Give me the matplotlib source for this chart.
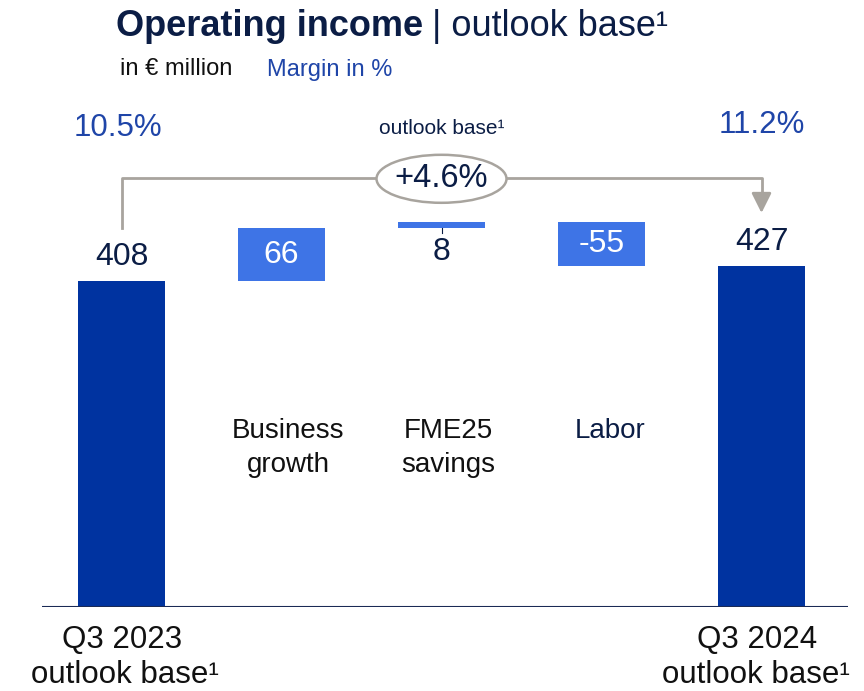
import numpy as np
import matplotlib.pyplot as plt
from matplotlib.patches import Ellipse

plt.rcParams['font.family'] = ['Liberation Sans', 'DejaVu Sans']

# data
steps = ['Q3 2023\noutlook base\u00b9', 'Business\ngrowth', 'FME25\nsavings', 'Labor',
         'Q3 2024\noutlook base\u00b9']
start_value = 408
deltas = [66, 8, -55]
end_value = 427
margins = ['10.5%', '11.2%']
growth_label = '+4.6%'

navy = '#0033a0'
light = '#3e74e6'
text_dark = '#0b1d45'
blue_text = '#1f45a8'
gray = '#a8a49e'

fig = plt.figure(figsize=(8.64, 6.91), dpi=100)
ax = fig.add_axes([42 / 864, 84 / 691, (848 - 42) / 864, 1 - 84 / 691])
px = 326 / 408  # pixels per unit
ax.set_ylim(0, 607 / px)
ax.set_xlim((42 - 121.5) / 160, (848 - 121.5) / 160)
ax.axis('off')
ax.axhline(0, color='#1a2a55', lw=1.5)

w = 0.545
x = np.arange(5)

# total bars
ax.bar(x[0], start_value, width=w, color=navy)
ax.bar(x[4], end_value, width=w, color=navy)

# floating bars
cum = start_value
for i, d in enumerate(deltas):
    lo = cum if d > 0 else cum + d
    ax.bar(x[i + 1], abs(d), bottom=lo, width=w, color=light)
    cum += d

# value labels
ax.text(x[0], start_value + 30, str(start_value), ha='center', va='center',
        fontsize=23, color=text_dark)
ax.text(x[4], end_value + 30, str(end_value), ha='center', va='center',
        fontsize=23, color=text_dark)
cum = start_value
for i, d in enumerate(deltas):
    xi = x[i + 1]
    if abs(d) > 20:
        ax.text(xi, cum + d / 2, str(d), ha='center', va='center', fontsize=23,
                color='white')
    else:
        ax.plot([xi, xi], [cum, cum - 6], color=text_dark, lw=0.8)
        ax.text(xi, cum - 30, str(d), ha='center', va='center',
                fontsize=23, color=text_dark)
    cum += d

# category labels in the middle
label_x = [288, 448, 610]
for i in range(1, 4):
    ax.text((label_x[i - 1] - 121.5) / 160, (607 - 418) / px, steps[i], ha='center',
            va='top', fontsize=20, color=text_dark if i == 3 else '#111111',
            linespacing=1.42)

# bottom labels
for i, (cx1, cx2) in zip((0, 4), ((122, 125), (757, 756))):
    lines = steps[i].split('\n')
    fig.text(cx1 / 864, 1 - 640 / 691, lines[0], ha='center', va='center',
             fontsize=22.5, color='#111111')
    fig.text(cx2 / 864, 1 - 675 / 691, lines[1], ha='center', va='center',
             fontsize=22.5, color='#111111')

# margins
ax.text(x[0] - 0.02, (607 - 128) / px, margins[0], ha='center', va='center',
        fontsize=22.5, color=blue_text)
ax.text(x[4] - 0.0, (607 - 125) / px, margins[1], ha='center', va='center',
        fontsize=22.5, color=blue_text)

# growth bracket
bracket_y = (607 - 178) / px
left_start = start_value + deltas[0]
arrow_tip = (607 - 213) / px
ell_w, ell_h = 130 / 160, 48 / px
ax.plot([x[0], x[0], x[2] - ell_w / 2], [left_start, bracket_y, bracket_y],
        color=gray, lw=2)
ax.plot([x[2] + ell_w / 2, x[4], x[4]], [bracket_y, bracket_y, arrow_tip + 18],
        color=gray, lw=2)
ax.annotate('', xy=(x[4], arrow_tip), xytext=(x[4], arrow_tip + 22),
            arrowprops=dict(arrowstyle='-|>,head_length=1.2,head_width=0.6',
                            color=gray, lw=2, shrinkA=0, shrinkB=0))
ax.add_patch(Ellipse((x[2], bracket_y - 1), ell_w, ell_h, facecolor='white',
                     edgecolor=gray, lw=1.8, zorder=3))
ax.text(x[2], bracket_y - 1, growth_label, ha='center', va='center', fontsize=23.5,
        color=text_dark, zorder=4)
ax.text(x[2], (607 - 128) / px, 'outlook base\u00b9', ha='center', va='center',
        fontsize=15, color=text_dark)

# titles
fig.text(116 / 864, 1 - 26 / 691, 'Operating income', ha='left', va='center',
         fontsize=26, fontweight='bold', color=text_dark)
fig.text(432 / 864, 1 - 26 / 691, '| outlook base\u00b9', ha='left', va='center',
         fontsize=26, color=text_dark)
fig.text(120 / 864, 1 - 69 / 691, 'in \u20ac million', ha='left', va='center',
         fontsize=17, color='#111111')
fig.text(267 / 864, 1 - 70 / 691, 'Margin in %', ha='left', va='center',
         fontsize=17, color=blue_text)

fig.savefig('out.png', dpi=100)
